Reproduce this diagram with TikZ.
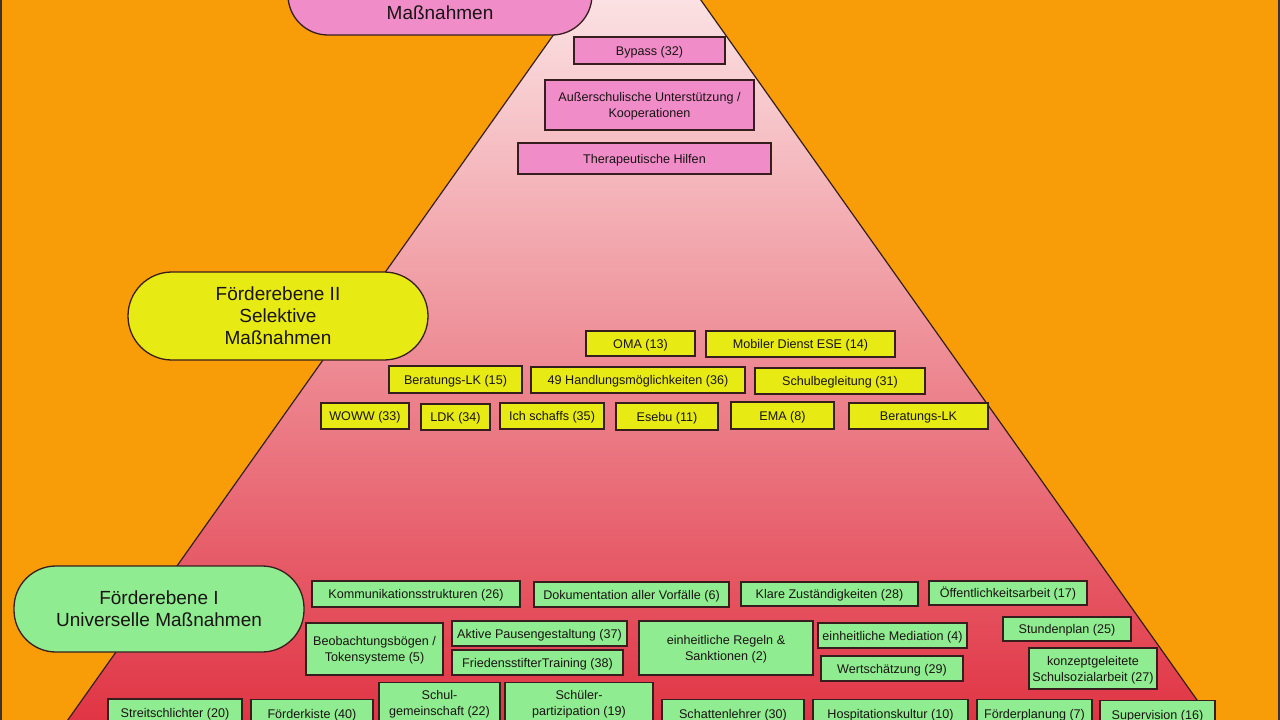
\documentclass[tikz,border=0pt]{standalone}
\usepackage{fontspec}
\setmainfont{Liberation Sans}
\definecolor{bgorange}{RGB}{248,156,8}
\definecolor{frameline}{RGB}{60,50,50}
\definecolor{boxline}{RGB}{55,30,30}
\definecolor{pinkfill}{RGB}{240,140,200}
\definecolor{yellowfill}{RGB}{232,234,20}
\definecolor{greenfill}{RGB}{144,236,144}
\definecolor{txt}{RGB}{25,20,20}
\definecolor{pyrtop}{RGB}{254,246,246}
\definecolor{pyrbot}{RGB}{224,50,66}
\tikzset{
  box/.style={draw=boxline, line width=1.3pt, inner sep=1pt, align=center, text=txt,
    font=\fontsize{12.6}{16}\selectfont, text depth=0pt},
  sl/.style={text height=9pt},
  pbox/.style={box, fill=pinkfill},
  ybox/.style={box, sl, fill=yellowfill},
  gbox/.style={box, fill=greenfill},
  pill/.style={draw=boxline, line width=1.3pt, align=center, text=txt,
    font=\fontsize{19}{22}\selectfont, text depth=-4pt},
  pilltext/.style={align=center, text=txt, font=\fontsize{19}{22}\selectfont, inner sep=0pt,
    text height=13.6pt, text depth=0pt},
  sz/.style 2 args={minimum width=#1pt, minimum height=#2pt}
}
\begin{document}
\begin{tikzpicture}[x=1pt,y=-1pt]
\useasboundingbox (0,0) rectangle (1280,720);
% background
\fill[bgorange] (-5,-5) rectangle (1285,725);
\draw[frameline, line width=2pt] (1,-10) -- (1,730);
\draw[frameline, line width=2pt] (1279,-10) -- (1279,730);
% pyramid
\coordinate (apex) at (639.5,-86.5);
\coordinate (bl) at (60,731);
\coordinate (br) at (1219,731);
\shade[top color=pyrtop, bottom color=pyrbot] (apex) -- (bl) -- (br) -- cycle;
\draw[boxline, line width=1.2pt] (bl) -- (apex) -- (br);

% level pills
\node[pill, fill=pinkfill, sz={304}{88}, rounded corners=40pt] (p3) at (440,-9) {};
\node[pilltext] (p3t) at (440,13) {Maßnahmen};
\node[pill, fill=yellowfill, sz={300}{88}, rounded corners=44pt] (p2) at (278,316) {Förderebene II\\Selektive\\Maßnahmen};
\node[pill, fill=greenfill, sz={290}{86}, rounded corners=42pt] (p1) at (159,609) {Förderebene I\\Universelle Maßnahmen};

% pink boxes
\node[pbox, sl, sz={151}{27}] (bypass) at (649.5,50.5) {Bypass (32)};
\node[pbox, sz={209}{50}] (ausser) at (649.5,105) {Außerschulische Unterstützung /\\Kooperationen};
\node[pbox, sl, sz={253}{31}] (thera) at (644.5,158.5) {Therapeutische Hilfen};

% yellow boxes
\node[ybox, sz={109}{25}] (oma) at (640.5,343.5) {OMA (13)};
\node[ybox, sz={189}{26}] (mobil) at (800.5,344) {Mobiler Dienst ESE (14)};
\node[ybox, sz={133}{27}] (blk15) at (455.5,379.5) {Beratungs-LK (15)};
\node[ybox, sz={214}{26}] (hand) at (638,380) {49 Handlungsmöglichkeiten (36)};
\node[ybox, sz={170}{26}] (schulb) at (840,381) {Schulbegleitung (31)};
\node[ybox, sz={88}{26}] (woww) at (365,416) {WOWW (33)};
\node[ybox, sz={69}{26}] (ldk) at (455.5,417) {LDK (34)};
\node[ybox, sz={104}{26}] (ich) at (552,416) {Ich schaffs (35)};
\node[ybox, sz={102}{27}] (esebu) at (667,416.5) {Esebu (11)};
\node[ybox, sz={103}{27}] (ema) at (782.5,415.5) {EMA (8)};
\node[ybox, sz={139}{26}] (blk) at (918.5,416) {Beratungs-LK};

% green boxes row 1
\node[gbox, sl, sz={208}{26}] (komm) at (416,594) {Kommunikationsstrukturen (26)};
\node[gbox, sl, sz={195}{25}] (doku) at (631.5,594.5) {Dokumentation aller Vorfälle (6)};
\node[gbox, sl, sz={177}{24}] (klare) at (829.5,594) {Klare Zuständigkeiten (28)};
\node[gbox, sl, sz={158}{24}] (oeff) at (1008,593) {Öffentlichkeitsarbeit (17)};
% row 2
\node[gbox, sz={137}{52}] (beob) at (374.5,649) {Beobachtungsbögen /\\Tokensysteme (5)};
\node[gbox, sl, sz={175}{25}] (aktiv) at (539.5,633.5) {Aktive Pausengestaltung (37)};
\node[gbox, sl, sz={171}{25}] (fried) at (537.5,662.5) {FriedensstifterTraining (38)};
\node[gbox, sz={174}{54}] (regeln) at (726,648) {einheitliche Regeln \&\\Sanktionen (2)};
\node[gbox, sl, sz={149}{25}] (medi) at (892.5,635.5) {einheitliche Mediation (4)};
\node[gbox, sl, sz={142}{25}] (wert) at (892,668.5) {Wertschätzung (29)};
\node[gbox, sl, sz={128}{24}] (stund) at (1067,629) {Stundenplan (25)};
\node[gbox, sz={128}{41}] (konz) at (1093,668.5) {konzeptgeleitete\\Schulsozialarbeit (27)};
% row 3
\node[gbox, sl, sz={134}{28}] (streit) at (175,713) {Streitschlichter (20)};
\node[gbox, sl, sz={122}{28}] (kiste) at (312,713.5) {Förderkiste (40)};
\node[gbox, sz={121}{40}] (gemein) at (439.5,702.5) {Schul-\\gemeinschaft (22)};
\node[gbox, sz={148}{40}] (partiz) at (579,702.5) {Schüler-\\partizipation (19)};
\node[gbox, sl, sz={142}{28}] (schatt) at (733,713.5) {Schattenlehrer (30)};
\node[gbox, sl, sz={155}{28}] (hosp) at (890.5,713.5) {Hospitationskultur (10)};
\node[gbox, sl, sz={115}{28}] (fplan) at (1034.5,713.5) {Förderplanung (7)};
\node[gbox, sl, sz={115}{28}] (superv) at (1157.5,714.5) {Supervision (16)};
\end{tikzpicture}
\end{document}
